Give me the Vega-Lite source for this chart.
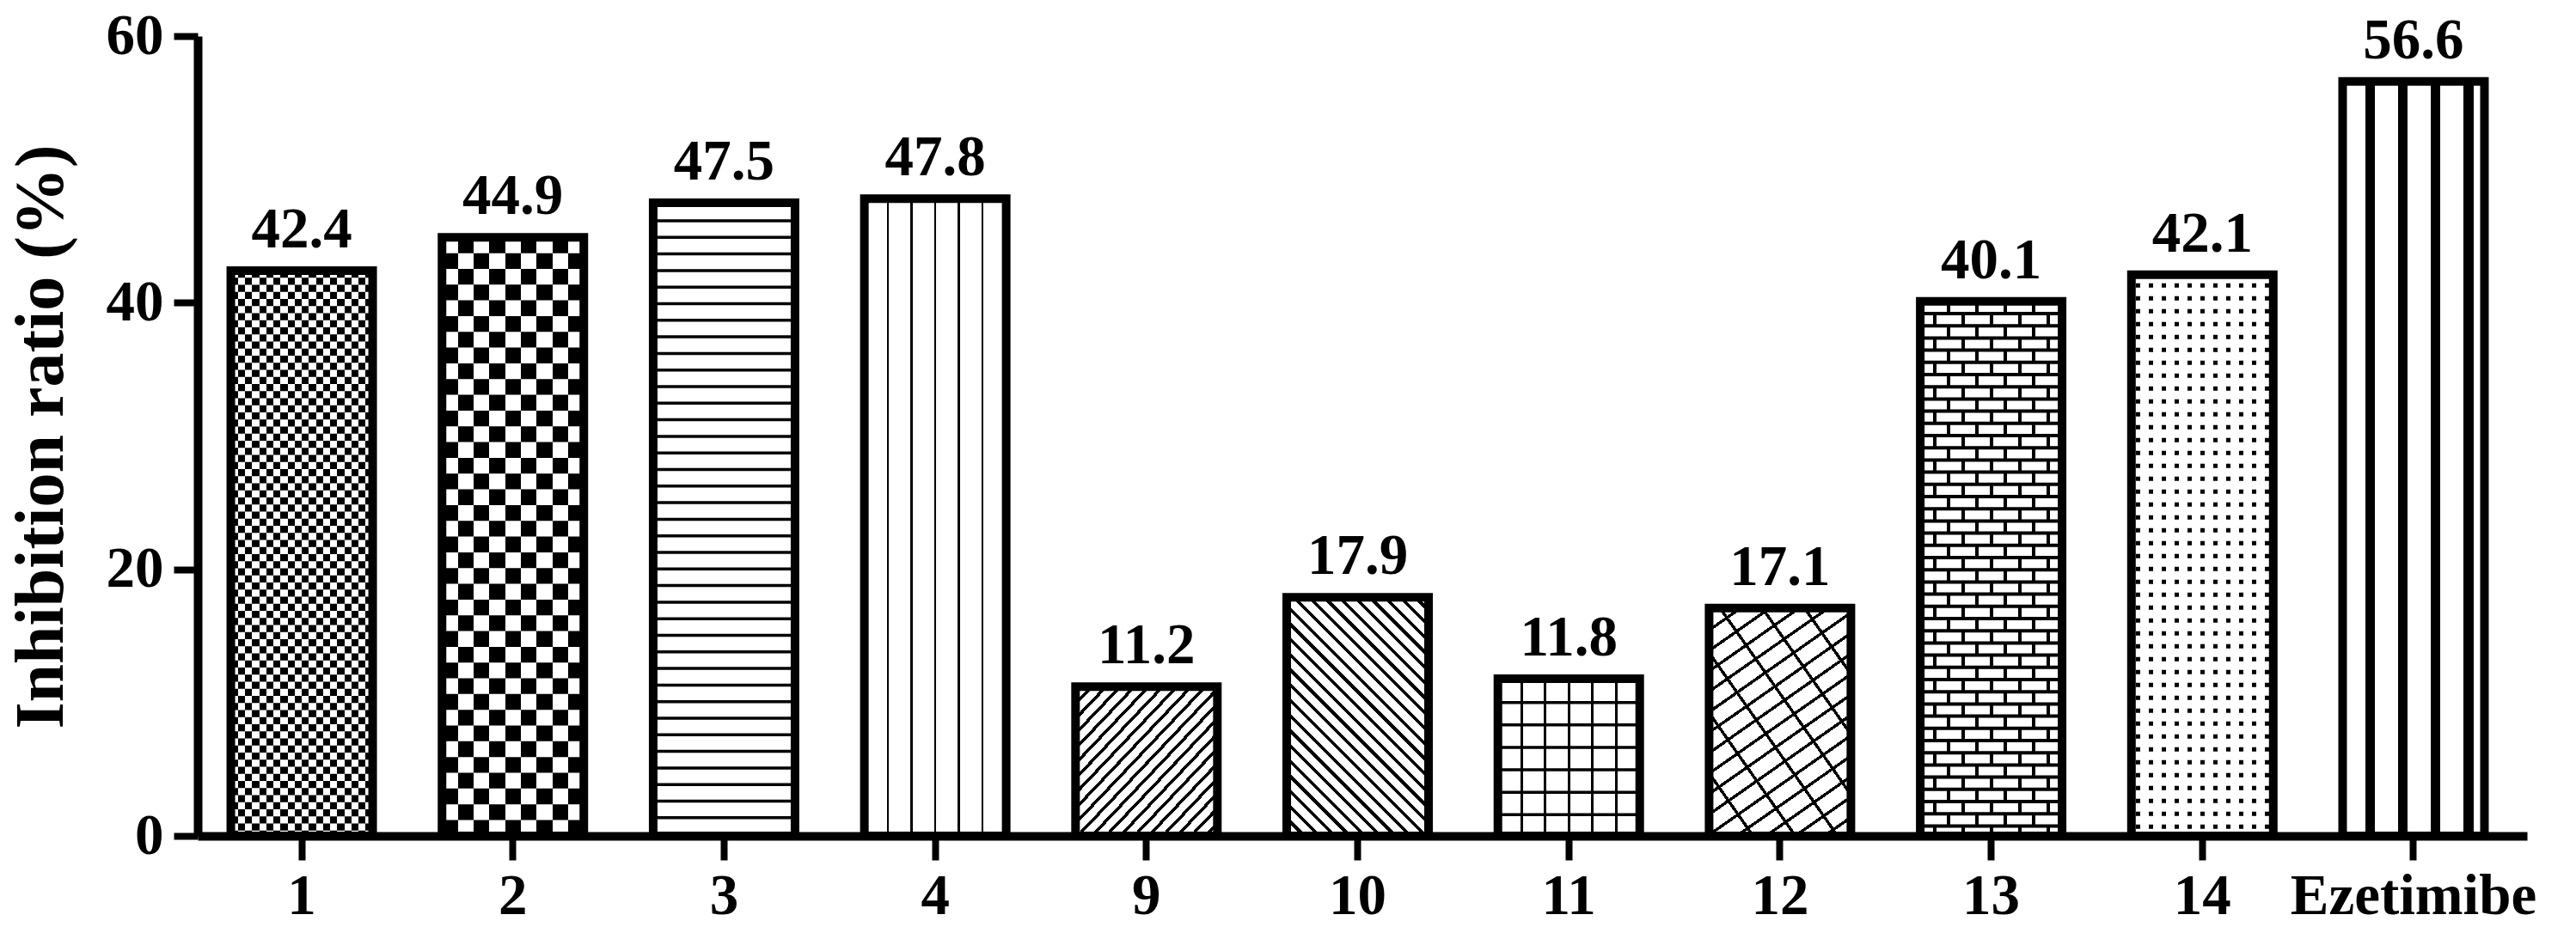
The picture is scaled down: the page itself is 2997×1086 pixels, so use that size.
{
  "$schema": "https://vega.github.io/schema/vega-lite/v6.json",
  "description": "Inhibition ratio of compounds 1-14 and Ezetimibe, patterned bars",
  "width": 2710,
  "height": 931,
  "autosize": {"type": "none"},
  "padding": {"left": 230, "top": 42, "right": 57, "bottom": 113},
  "background": "#ffffff",
  "config": {"view": {"stroke": null}, "font": "Liberation Serif"},
  "data": {
    "values": [
      {"compound": "1", "ratio": 42.4},
      {"compound": "2", "ratio": 44.9},
      {"compound": "3", "ratio": 47.5},
      {"compound": "4", "ratio": 47.8},
      {"compound": "9", "ratio": 11.2},
      {"compound": "10", "ratio": 17.9},
      {"compound": "11", "ratio": 11.8},
      {"compound": "12", "ratio": 17.1},
      {"compound": "13", "ratio": 40.1},
      {"compound": "14", "ratio": 42.1},
      {"compound": "Ezetimibe", "ratio": 56.6}
    ]
  },
  "encoding": {
    "x": {
      "field": "compound",
      "type": "nominal",
      "sort": null,
      "scale": {"paddingInner": 0.33, "paddingOuter": 0.18, "align": 0.438},
      "axis": {
        "title": null,
        "labelAngle": 0,
        "labelLimit": 0,
        "labelFont": "Liberation Serif",
        "labelFontSize": 67,
        "labelFontWeight": "bold",
        "labelColor": "#000",
        "labelBaseline": "top",
        "labelPadding": 9,
        "tickSize": 28,
        "tickWidth": 8,
        "tickColor": "#000",
        "domainColor": "#000",
        "domainWidth": 10
      }
    },
    "y": {
      "field": "ratio",
      "type": "quantitative",
      "scale": {"domain": [0, 60], "nice": false},
      "axis": {
        "values": [0, 20, 40, 60],
        "grid": false,
        "title": "Inhibition ratio (%)",
        "titleFont": "Liberation Serif",
        "titleFontSize": 80,
        "titleFontWeight": "bold",
        "titleColor": "#000",
        "titleAngle": -90,
        "titleAlign": "center",
        "titleBaseline": "alphabetic",
        "titleX": -158,
        "titleY": 466,
        "labelFont": "Liberation Serif",
        "labelFontSize": 67,
        "labelFontWeight": "bold",
        "labelColor": "#000",
        "labelFlush": false,
        "labelPadding": 12,
        "tickSize": 28,
        "tickWidth": 8,
        "tickColor": "#000",
        "domainColor": "#000",
        "domainWidth": 10
      }
    }
  },
  "layer": [
    {"mark": {"type": "bar", "width": 165, "fill": "#fff"}},
    {
      "transform": [{"filter": "datum.compound === '1'"}],
      "mark": {"type": "bar", "width": 165, "fill": {"gradient": "linear", "x1": 0, "y1": 0, "x2": 1, "y2": 0, "stops": [
        {"offset": 0, "color": "#000"}, {"offset": 0.05, "color": "#000"}, {"offset": 0.05, "color": "#fff"}, {"offset": 0.1, "color": "#fff"},
        {"offset": 0.1, "color": "#000"}, {"offset": 0.15, "color": "#000"}, {"offset": 0.15, "color": "#fff"}, {"offset": 0.2, "color": "#fff"},
        {"offset": 0.2, "color": "#000"}, {"offset": 0.25, "color": "#000"}, {"offset": 0.25, "color": "#fff"}, {"offset": 0.3, "color": "#fff"},
        {"offset": 0.3, "color": "#000"}, {"offset": 0.35, "color": "#000"}, {"offset": 0.35, "color": "#fff"}, {"offset": 0.4, "color": "#fff"},
        {"offset": 0.4, "color": "#000"}, {"offset": 0.45, "color": "#000"}, {"offset": 0.45, "color": "#fff"}, {"offset": 0.5, "color": "#fff"},
        {"offset": 0.5, "color": "#000"}, {"offset": 0.55, "color": "#000"}, {"offset": 0.55, "color": "#fff"}, {"offset": 0.6, "color": "#fff"},
        {"offset": 0.6, "color": "#000"}, {"offset": 0.65, "color": "#000"}, {"offset": 0.65, "color": "#fff"}, {"offset": 0.7, "color": "#fff"},
        {"offset": 0.7, "color": "#000"}, {"offset": 0.75, "color": "#000"}, {"offset": 0.75, "color": "#fff"}, {"offset": 0.8, "color": "#fff"},
        {"offset": 0.8, "color": "#000"}, {"offset": 0.85, "color": "#000"}, {"offset": 0.85, "color": "#fff"}, {"offset": 0.9, "color": "#fff"},
        {"offset": 0.9, "color": "#000"}, {"offset": 0.95, "color": "#000"}, {"offset": 0.95, "color": "#fff"}, {"offset": 1, "color": "#fff"}
      ]}}
    },
    {
      "transform": [{"filter": "datum.compound === '1'"}],
      "mark": {"type": "rule", "stroke": "#fff", "strokeWidth": 165, "strokeDash": [8.25, 8.25], "blend": "difference"},
      "encoding": {"y2": {"datum": 0}}
    },
    {
      "transform": [{"filter": "datum.compound === '2'"}],
      "mark": {"type": "bar", "width": 165, "fill": {"gradient": "linear", "x1": 0, "y1": 0, "x2": 1, "y2": 0, "stops": [
        {"offset": 0, "color": "#000"}, {"offset": 0.1111, "color": "#000"}, {"offset": 0.1111, "color": "#fff"}, {"offset": 0.2222, "color": "#fff"},
        {"offset": 0.2222, "color": "#000"}, {"offset": 0.3333, "color": "#000"}, {"offset": 0.3333, "color": "#fff"}, {"offset": 0.4444, "color": "#fff"},
        {"offset": 0.4444, "color": "#000"}, {"offset": 0.5556, "color": "#000"}, {"offset": 0.5556, "color": "#fff"}, {"offset": 0.6667, "color": "#fff"},
        {"offset": 0.6667, "color": "#000"}, {"offset": 0.7778, "color": "#000"}, {"offset": 0.7778, "color": "#fff"}, {"offset": 0.8889, "color": "#fff"},
        {"offset": 0.8889, "color": "#000"}, {"offset": 1, "color": "#000"}
      ]}}
    },
    {
      "transform": [{"filter": "datum.compound === '2'"}],
      "mark": {"type": "rule", "stroke": "#fff", "strokeWidth": 165, "strokeDash": [18.33, 18.33], "blend": "difference"},
      "encoding": {"y2": {"datum": 0}}
    },
    {
      "transform": [{"filter": "datum.compound === '3'"}],
      "mark": {"type": "rule", "stroke": "#000", "strokeWidth": 165, "strokeDash": [3.5, 15.8]},
      "encoding": {"y2": {"datum": 0}}
    },
    {
      "transform": [{"filter": "datum.compound === '4'"}],
      "mark": {"type": "bar", "width": 165, "fill": {"gradient": "linear", "x1": 0, "y1": 0, "x2": 1, "y2": 0, "stops": [
        {"offset": 0, "color": "#fff"}, {"offset": 0.1592, "color": "#fff"}, {"offset": 0.1592, "color": "#000"}, {"offset": 0.1742, "color": "#000"}, {"offset": 0.1742, "color": "#fff"},
        {"offset": 0.3258, "color": "#fff"}, {"offset": 0.3258, "color": "#000"}, {"offset": 0.3408, "color": "#000"}, {"offset": 0.3408, "color": "#fff"},
        {"offset": 0.4925, "color": "#fff"}, {"offset": 0.4925, "color": "#000"}, {"offset": 0.5075, "color": "#000"}, {"offset": 0.5075, "color": "#fff"},
        {"offset": 0.6592, "color": "#fff"}, {"offset": 0.6592, "color": "#000"}, {"offset": 0.6742, "color": "#000"}, {"offset": 0.6742, "color": "#fff"},
        {"offset": 0.8258, "color": "#fff"}, {"offset": 0.8258, "color": "#000"}, {"offset": 0.8408, "color": "#000"}, {"offset": 0.8408, "color": "#fff"},
        {"offset": 1, "color": "#fff"}
      ]}}
    },
    {
      "transform": [{"filter": "datum.compound === '9'"}],
      "mark": {"type": "bar", "width": 165, "fill": {"gradient": "linear", "x1": 0, "y1": 0, "x2": 1, "y2": 1, "stops": [
        {"offset": 0, "color": "#000"}, {"offset": 0.015, "color": "#000"}, {"offset": 0.015, "color": "#fff"}, {"offset": 0.05, "color": "#fff"},
        {"offset": 0.05, "color": "#000"}, {"offset": 0.065, "color": "#000"}, {"offset": 0.065, "color": "#fff"}, {"offset": 0.1, "color": "#fff"},
        {"offset": 0.1, "color": "#000"}, {"offset": 0.115, "color": "#000"}, {"offset": 0.115, "color": "#fff"}, {"offset": 0.15, "color": "#fff"},
        {"offset": 0.15, "color": "#000"}, {"offset": 0.165, "color": "#000"}, {"offset": 0.165, "color": "#fff"}, {"offset": 0.2, "color": "#fff"},
        {"offset": 0.2, "color": "#000"}, {"offset": 0.215, "color": "#000"}, {"offset": 0.215, "color": "#fff"}, {"offset": 0.25, "color": "#fff"},
        {"offset": 0.25, "color": "#000"}, {"offset": 0.265, "color": "#000"}, {"offset": 0.265, "color": "#fff"}, {"offset": 0.3, "color": "#fff"},
        {"offset": 0.3, "color": "#000"}, {"offset": 0.315, "color": "#000"}, {"offset": 0.315, "color": "#fff"}, {"offset": 0.35, "color": "#fff"},
        {"offset": 0.35, "color": "#000"}, {"offset": 0.365, "color": "#000"}, {"offset": 0.365, "color": "#fff"}, {"offset": 0.4, "color": "#fff"},
        {"offset": 0.4, "color": "#000"}, {"offset": 0.415, "color": "#000"}, {"offset": 0.415, "color": "#fff"}, {"offset": 0.45, "color": "#fff"},
        {"offset": 0.45, "color": "#000"}, {"offset": 0.465, "color": "#000"}, {"offset": 0.465, "color": "#fff"}, {"offset": 0.5, "color": "#fff"},
        {"offset": 0.5, "color": "#000"}, {"offset": 0.515, "color": "#000"}, {"offset": 0.515, "color": "#fff"}, {"offset": 0.55, "color": "#fff"},
        {"offset": 0.55, "color": "#000"}, {"offset": 0.565, "color": "#000"}, {"offset": 0.565, "color": "#fff"}, {"offset": 0.6, "color": "#fff"},
        {"offset": 0.6, "color": "#000"}, {"offset": 0.615, "color": "#000"}, {"offset": 0.615, "color": "#fff"}, {"offset": 0.65, "color": "#fff"},
        {"offset": 0.65, "color": "#000"}, {"offset": 0.665, "color": "#000"}, {"offset": 0.665, "color": "#fff"}, {"offset": 0.7, "color": "#fff"},
        {"offset": 0.7, "color": "#000"}, {"offset": 0.715, "color": "#000"}, {"offset": 0.715, "color": "#fff"}, {"offset": 0.75, "color": "#fff"},
        {"offset": 0.75, "color": "#000"}, {"offset": 0.765, "color": "#000"}, {"offset": 0.765, "color": "#fff"}, {"offset": 0.8, "color": "#fff"},
        {"offset": 0.8, "color": "#000"}, {"offset": 0.815, "color": "#000"}, {"offset": 0.815, "color": "#fff"}, {"offset": 0.85, "color": "#fff"},
        {"offset": 0.85, "color": "#000"}, {"offset": 0.865, "color": "#000"}, {"offset": 0.865, "color": "#fff"}, {"offset": 0.9, "color": "#fff"},
        {"offset": 0.9, "color": "#000"}, {"offset": 0.915, "color": "#000"}, {"offset": 0.915, "color": "#fff"}, {"offset": 0.95, "color": "#fff"},
        {"offset": 0.95, "color": "#000"}, {"offset": 0.965, "color": "#000"}, {"offset": 0.965, "color": "#fff"}, {"offset": 1, "color": "#fff"}
      ]}}
    },
    {
      "transform": [{"filter": "datum.compound === '10'"}],
      "mark": {"type": "bar", "width": 165, "fill": {"gradient": "linear", "x1": 0, "y1": 1, "x2": 0.7, "y2": -0.178, "stops": [
        {"offset": 0, "color": "#000"}, {"offset": 0.012, "color": "#000"}, {"offset": 0.012, "color": "#fff"}, {"offset": 0.04, "color": "#fff"},
        {"offset": 0.04, "color": "#000"}, {"offset": 0.052, "color": "#000"}, {"offset": 0.052, "color": "#fff"}, {"offset": 0.08, "color": "#fff"},
        {"offset": 0.08, "color": "#000"}, {"offset": 0.092, "color": "#000"}, {"offset": 0.092, "color": "#fff"}, {"offset": 0.12, "color": "#fff"},
        {"offset": 0.12, "color": "#000"}, {"offset": 0.132, "color": "#000"}, {"offset": 0.132, "color": "#fff"}, {"offset": 0.16, "color": "#fff"},
        {"offset": 0.16, "color": "#000"}, {"offset": 0.172, "color": "#000"}, {"offset": 0.172, "color": "#fff"}, {"offset": 0.2, "color": "#fff"},
        {"offset": 0.2, "color": "#000"}, {"offset": 0.212, "color": "#000"}, {"offset": 0.212, "color": "#fff"}, {"offset": 0.24, "color": "#fff"},
        {"offset": 0.24, "color": "#000"}, {"offset": 0.252, "color": "#000"}, {"offset": 0.252, "color": "#fff"}, {"offset": 0.28, "color": "#fff"},
        {"offset": 0.28, "color": "#000"}, {"offset": 0.292, "color": "#000"}, {"offset": 0.292, "color": "#fff"}, {"offset": 0.32, "color": "#fff"},
        {"offset": 0.32, "color": "#000"}, {"offset": 0.332, "color": "#000"}, {"offset": 0.332, "color": "#fff"}, {"offset": 0.36, "color": "#fff"},
        {"offset": 0.36, "color": "#000"}, {"offset": 0.372, "color": "#000"}, {"offset": 0.372, "color": "#fff"}, {"offset": 0.4, "color": "#fff"},
        {"offset": 0.4, "color": "#000"}, {"offset": 0.412, "color": "#000"}, {"offset": 0.412, "color": "#fff"}, {"offset": 0.44, "color": "#fff"},
        {"offset": 0.44, "color": "#000"}, {"offset": 0.452, "color": "#000"}, {"offset": 0.452, "color": "#fff"}, {"offset": 0.48, "color": "#fff"},
        {"offset": 0.48, "color": "#000"}, {"offset": 0.492, "color": "#000"}, {"offset": 0.492, "color": "#fff"}, {"offset": 0.52, "color": "#fff"},
        {"offset": 0.52, "color": "#000"}, {"offset": 0.532, "color": "#000"}, {"offset": 0.532, "color": "#fff"}, {"offset": 0.56, "color": "#fff"},
        {"offset": 0.56, "color": "#000"}, {"offset": 0.572, "color": "#000"}, {"offset": 0.572, "color": "#fff"}, {"offset": 0.6, "color": "#fff"},
        {"offset": 0.6, "color": "#000"}, {"offset": 0.612, "color": "#000"}, {"offset": 0.612, "color": "#fff"}, {"offset": 0.64, "color": "#fff"},
        {"offset": 0.64, "color": "#000"}, {"offset": 0.652, "color": "#000"}, {"offset": 0.652, "color": "#fff"}, {"offset": 0.68, "color": "#fff"},
        {"offset": 0.68, "color": "#000"}, {"offset": 0.692, "color": "#000"}, {"offset": 0.692, "color": "#fff"}, {"offset": 0.72, "color": "#fff"},
        {"offset": 0.72, "color": "#000"}, {"offset": 0.732, "color": "#000"}, {"offset": 0.732, "color": "#fff"}, {"offset": 0.76, "color": "#fff"},
        {"offset": 0.76, "color": "#000"}, {"offset": 0.772, "color": "#000"}, {"offset": 0.772, "color": "#fff"}, {"offset": 0.8, "color": "#fff"},
        {"offset": 0.8, "color": "#000"}, {"offset": 0.812, "color": "#000"}, {"offset": 0.812, "color": "#fff"}, {"offset": 0.84, "color": "#fff"},
        {"offset": 0.84, "color": "#000"}, {"offset": 0.852, "color": "#000"}, {"offset": 0.852, "color": "#fff"}, {"offset": 0.88, "color": "#fff"},
        {"offset": 0.88, "color": "#000"}, {"offset": 0.892, "color": "#000"}, {"offset": 0.892, "color": "#fff"}, {"offset": 0.92, "color": "#fff"},
        {"offset": 0.92, "color": "#000"}, {"offset": 0.932, "color": "#000"}, {"offset": 0.932, "color": "#fff"}, {"offset": 0.96, "color": "#fff"},
        {"offset": 0.96, "color": "#000"}, {"offset": 0.972, "color": "#000"}, {"offset": 0.972, "color": "#fff"}, {"offset": 1, "color": "#fff"}
      ]}}
    },
    {
      "transform": [{"filter": "datum.compound === '11'"}],
      "mark": {"type": "bar", "width": 165, "fill": {"gradient": "linear", "x1": 0, "y1": 0, "x2": 1, "y2": 0, "stops": [
        {"offset": 0, "color": "#fff"}, {"offset": 0.1567, "color": "#fff"}, {"offset": 0.1567, "color": "#000"}, {"offset": 0.1767, "color": "#000"}, {"offset": 0.1767, "color": "#fff"},
        {"offset": 0.3233, "color": "#fff"}, {"offset": 0.3233, "color": "#000"}, {"offset": 0.3433, "color": "#000"}, {"offset": 0.3433, "color": "#fff"},
        {"offset": 0.49, "color": "#fff"}, {"offset": 0.49, "color": "#000"}, {"offset": 0.51, "color": "#000"}, {"offset": 0.51, "color": "#fff"},
        {"offset": 0.6567, "color": "#fff"}, {"offset": 0.6567, "color": "#000"}, {"offset": 0.6767, "color": "#000"}, {"offset": 0.6767, "color": "#fff"},
        {"offset": 0.8233, "color": "#fff"}, {"offset": 0.8233, "color": "#000"}, {"offset": 0.8433, "color": "#000"}, {"offset": 0.8433, "color": "#fff"},
        {"offset": 1, "color": "#fff"}
      ]}}
    },
    {
      "transform": [{"filter": "datum.compound === '11'"}],
      "mark": {"type": "rule", "stroke": "#000", "strokeWidth": 165, "strokeDash": [3.5, 22.6]},
      "encoding": {"y2": {"datum": 0}}
    },
    {
      "transform": [{"filter": "datum.compound === '12'"}],
      "mark": {"type": "bar", "width": 165, "fill": {"gradient": "linear", "x1": 0, "y1": 0, "x2": 0.526, "y2": 1.207, "stops": [
        {"offset": 0, "color": "#000"}, {"offset": 0.011, "color": "#000"}, {"offset": 0.011, "color": "#fff"}, {"offset": 0.0625, "color": "#fff"},
        {"offset": 0.0625, "color": "#000"}, {"offset": 0.0735, "color": "#000"}, {"offset": 0.0735, "color": "#fff"}, {"offset": 0.125, "color": "#fff"},
        {"offset": 0.125, "color": "#000"}, {"offset": 0.136, "color": "#000"}, {"offset": 0.136, "color": "#fff"}, {"offset": 0.1875, "color": "#fff"},
        {"offset": 0.1875, "color": "#000"}, {"offset": 0.1985, "color": "#000"}, {"offset": 0.1985, "color": "#fff"}, {"offset": 0.25, "color": "#fff"},
        {"offset": 0.25, "color": "#000"}, {"offset": 0.261, "color": "#000"}, {"offset": 0.261, "color": "#fff"}, {"offset": 0.3125, "color": "#fff"},
        {"offset": 0.3125, "color": "#000"}, {"offset": 0.3235, "color": "#000"}, {"offset": 0.3235, "color": "#fff"}, {"offset": 0.375, "color": "#fff"},
        {"offset": 0.375, "color": "#000"}, {"offset": 0.386, "color": "#000"}, {"offset": 0.386, "color": "#fff"}, {"offset": 0.4375, "color": "#fff"},
        {"offset": 0.4375, "color": "#000"}, {"offset": 0.4485, "color": "#000"}, {"offset": 0.4485, "color": "#fff"}, {"offset": 0.5, "color": "#fff"},
        {"offset": 0.5, "color": "#000"}, {"offset": 0.511, "color": "#000"}, {"offset": 0.511, "color": "#fff"}, {"offset": 0.5625, "color": "#fff"},
        {"offset": 0.5625, "color": "#000"}, {"offset": 0.5735, "color": "#000"}, {"offset": 0.5735, "color": "#fff"}, {"offset": 0.625, "color": "#fff"},
        {"offset": 0.625, "color": "#000"}, {"offset": 0.636, "color": "#000"}, {"offset": 0.636, "color": "#fff"}, {"offset": 0.6875, "color": "#fff"},
        {"offset": 0.6875, "color": "#000"}, {"offset": 0.6985, "color": "#000"}, {"offset": 0.6985, "color": "#fff"}, {"offset": 0.75, "color": "#fff"},
        {"offset": 0.75, "color": "#000"}, {"offset": 0.761, "color": "#000"}, {"offset": 0.761, "color": "#fff"}, {"offset": 0.8125, "color": "#fff"},
        {"offset": 0.8125, "color": "#000"}, {"offset": 0.8235, "color": "#000"}, {"offset": 0.8235, "color": "#fff"}, {"offset": 0.875, "color": "#fff"},
        {"offset": 0.875, "color": "#000"}, {"offset": 0.886, "color": "#000"}, {"offset": 0.886, "color": "#fff"}, {"offset": 0.9375, "color": "#fff"},
        {"offset": 0.9375, "color": "#000"}, {"offset": 0.9485, "color": "#000"}, {"offset": 0.9485, "color": "#fff"}, {"offset": 1, "color": "#fff"}
      ]}}
    },
    {
      "transform": [{"filter": "datum.compound === '12'"}],
      "mark": {"type": "bar", "width": 165, "fill": {"gradient": "linear", "x1": 0, "y1": 1, "x2": 0.937, "y2": -0.056, "stops": [
        {"offset": 0, "color": "#000"}, {"offset": 0.012, "color": "#000"}, {"offset": 0.012, "color": "rgba(0,0,0,0)"}, {"offset": 0.14, "color": "rgba(0,0,0,0)"},
        {"offset": 0.14, "color": "#000"}, {"offset": 0.152, "color": "#000"}, {"offset": 0.152, "color": "rgba(0,0,0,0)"}, {"offset": 0.28, "color": "rgba(0,0,0,0)"},
        {"offset": 0.28, "color": "#000"}, {"offset": 0.292, "color": "#000"}, {"offset": 0.292, "color": "rgba(0,0,0,0)"}, {"offset": 0.42, "color": "rgba(0,0,0,0)"},
        {"offset": 0.42, "color": "#000"}, {"offset": 0.432, "color": "#000"}, {"offset": 0.432, "color": "rgba(0,0,0,0)"}, {"offset": 0.56, "color": "rgba(0,0,0,0)"},
        {"offset": 0.56, "color": "#000"}, {"offset": 0.572, "color": "#000"}, {"offset": 0.572, "color": "rgba(0,0,0,0)"}, {"offset": 0.7, "color": "rgba(0,0,0,0)"},
        {"offset": 0.7, "color": "#000"}, {"offset": 0.712, "color": "#000"}, {"offset": 0.712, "color": "rgba(0,0,0,0)"}, {"offset": 0.84, "color": "rgba(0,0,0,0)"},
        {"offset": 0.84, "color": "#000"}, {"offset": 0.852, "color": "#000"}, {"offset": 0.852, "color": "rgba(0,0,0,0)"}, {"offset": 0.98, "color": "rgba(0,0,0,0)"},
        {"offset": 0.98, "color": "#000"}, {"offset": 0.992, "color": "#000"}, {"offset": 0.992, "color": "rgba(0,0,0,0)"}, {"offset": 1, "color": "rgba(0,0,0,0)"}
      ]}}
    },
    {
      "transform": [{"filter": "datum.compound === '13'"}],
      "mark": {"type": "bar", "width": 165, "fill": {"gradient": "linear", "x1": 0, "y1": 0, "x2": 1, "y2": 0, "stops": [
        {"offset": 0, "color": "#fff"}, {"offset": 0.088, "color": "#fff"}, {"offset": 0.088, "color": "#000"}, {"offset": 0.112, "color": "#000"}, {"offset": 0.112, "color": "#fff"},
        {"offset": 0.288, "color": "#fff"}, {"offset": 0.288, "color": "#000"}, {"offset": 0.312, "color": "#000"}, {"offset": 0.312, "color": "#fff"},
        {"offset": 0.488, "color": "#fff"}, {"offset": 0.488, "color": "#000"}, {"offset": 0.512, "color": "#000"}, {"offset": 0.512, "color": "#fff"},
        {"offset": 0.688, "color": "#fff"}, {"offset": 0.688, "color": "#000"}, {"offset": 0.712, "color": "#000"}, {"offset": 0.712, "color": "#fff"},
        {"offset": 0.888, "color": "#fff"}, {"offset": 0.888, "color": "#000"}, {"offset": 0.912, "color": "#000"}, {"offset": 0.912, "color": "#fff"},
        {"offset": 1, "color": "#fff"}
      ]}}
    },
    {
      "transform": [{"filter": "datum.compound === '13'"}],
      "mark": {"type": "rule", "stroke": "#fff", "strokeWidth": 165, "strokeDash": [14.2, 14.2], "blend": "difference"},
      "encoding": {"y2": {"datum": 0}}
    },
    {
      "transform": [{"filter": "datum.compound === '13'"}],
      "mark": {"type": "bar", "width": 165, "blend": "lighten", "fill": {"gradient": "linear", "x1": 0, "y1": 0, "x2": 1, "y2": 0, "stops": [
        {"offset": 0, "color": "#fff"}, {"offset": 0.088, "color": "#fff"}, {"offset": 0.088, "color": "#000"}, {"offset": 0.112, "color": "#000"}, {"offset": 0.112, "color": "#fff"},
        {"offset": 0.188, "color": "#fff"}, {"offset": 0.188, "color": "#000"}, {"offset": 0.212, "color": "#000"}, {"offset": 0.212, "color": "#fff"},
        {"offset": 0.288, "color": "#fff"}, {"offset": 0.288, "color": "#000"}, {"offset": 0.312, "color": "#000"}, {"offset": 0.312, "color": "#fff"},
        {"offset": 0.388, "color": "#fff"}, {"offset": 0.388, "color": "#000"}, {"offset": 0.412, "color": "#000"}, {"offset": 0.412, "color": "#fff"},
        {"offset": 0.488, "color": "#fff"}, {"offset": 0.488, "color": "#000"}, {"offset": 0.512, "color": "#000"}, {"offset": 0.512, "color": "#fff"},
        {"offset": 0.588, "color": "#fff"}, {"offset": 0.588, "color": "#000"}, {"offset": 0.612, "color": "#000"}, {"offset": 0.612, "color": "#fff"},
        {"offset": 0.688, "color": "#fff"}, {"offset": 0.688, "color": "#000"}, {"offset": 0.712, "color": "#000"}, {"offset": 0.712, "color": "#fff"},
        {"offset": 0.788, "color": "#fff"}, {"offset": 0.788, "color": "#000"}, {"offset": 0.812, "color": "#000"}, {"offset": 0.812, "color": "#fff"},
        {"offset": 0.888, "color": "#fff"}, {"offset": 0.888, "color": "#000"}, {"offset": 0.912, "color": "#000"}, {"offset": 0.912, "color": "#fff"},
        {"offset": 1, "color": "#fff"}
      ]}}
    },
    {
      "transform": [{"filter": "datum.compound === '13'"}],
      "mark": {"type": "rule", "stroke": "#000", "strokeWidth": 165, "strokeDash": [4, 10.2], "strokeDashOffset": 2},
      "encoding": {"y2": {"datum": 0}}
    },
    {
      "transform": [{"filter": "datum.compound === '14'"}],
      "mark": {"type": "bar", "width": 165, "fill": {"gradient": "linear", "x1": 0, "y1": 0, "x2": 1, "y2": 0, "stops": [
        {"offset": 0, "color": "#fff"}, {"offset": 0.0305, "color": "#fff"}, {"offset": 0.0305, "color": "#000"}, {"offset": 0.0605, "color": "#000"}, {"offset": 0.0605, "color": "#fff"},
        {"offset": 0.1214, "color": "#fff"}, {"offset": 0.1214, "color": "#000"}, {"offset": 0.1514, "color": "#000"}, {"offset": 0.1514, "color": "#fff"},
        {"offset": 0.2123, "color": "#fff"}, {"offset": 0.2123, "color": "#000"}, {"offset": 0.2423, "color": "#000"}, {"offset": 0.2423, "color": "#fff"},
        {"offset": 0.3032, "color": "#fff"}, {"offset": 0.3032, "color": "#000"}, {"offset": 0.3332, "color": "#000"}, {"offset": 0.3332, "color": "#fff"},
        {"offset": 0.3941, "color": "#fff"}, {"offset": 0.3941, "color": "#000"}, {"offset": 0.4241, "color": "#000"}, {"offset": 0.4241, "color": "#fff"},
        {"offset": 0.485, "color": "#fff"}, {"offset": 0.485, "color": "#000"}, {"offset": 0.515, "color": "#000"}, {"offset": 0.515, "color": "#fff"},
        {"offset": 0.5759, "color": "#fff"}, {"offset": 0.5759, "color": "#000"}, {"offset": 0.6059, "color": "#000"}, {"offset": 0.6059, "color": "#fff"},
        {"offset": 0.6668, "color": "#fff"}, {"offset": 0.6668, "color": "#000"}, {"offset": 0.6968, "color": "#000"}, {"offset": 0.6968, "color": "#fff"},
        {"offset": 0.7577, "color": "#fff"}, {"offset": 0.7577, "color": "#000"}, {"offset": 0.7877, "color": "#000"}, {"offset": 0.7877, "color": "#fff"},
        {"offset": 0.8486, "color": "#fff"}, {"offset": 0.8486, "color": "#000"}, {"offset": 0.8786, "color": "#000"}, {"offset": 0.8786, "color": "#fff"},
        {"offset": 0.9395, "color": "#fff"}, {"offset": 0.9395, "color": "#000"}, {"offset": 0.9695, "color": "#000"}, {"offset": 0.9695, "color": "#fff"},
        {"offset": 1, "color": "#fff"}
      ]}}
    },
    {
      "transform": [{"filter": "datum.compound === '14'"}],
      "mark": {"type": "rule", "stroke": "#fff", "strokeWidth": 165, "strokeDash": [10, 5]},
      "encoding": {"y2": {"datum": 0}}
    },
    {
      "transform": [{"filter": "datum.compound === 'Ezetimibe'"}],
      "mark": {"type": "bar", "width": 165, "fill": {"gradient": "linear", "x1": 0, "y1": 0, "x2": 1, "y2": 0, "stops": [
        {"offset": 0, "color": "#fff"}, {"offset": 0.161, "color": "#fff"}, {"offset": 0.161, "color": "#000"}, {"offset": 0.229, "color": "#000"}, {"offset": 0.229, "color": "#fff"},
        {"offset": 0.392, "color": "#fff"}, {"offset": 0.392, "color": "#000"}, {"offset": 0.46, "color": "#000"}, {"offset": 0.46, "color": "#fff"},
        {"offset": 0.623, "color": "#fff"}, {"offset": 0.623, "color": "#000"}, {"offset": 0.691, "color": "#000"}, {"offset": 0.691, "color": "#fff"},
        {"offset": 0.854, "color": "#fff"}, {"offset": 0.854, "color": "#000"}, {"offset": 0.922, "color": "#000"}, {"offset": 0.922, "color": "#fff"},
        {"offset": 1, "color": "#fff"}
      ]}}
    },
    {"mark": {"type": "bar", "width": 165, "fill": "transparent", "stroke": "#000", "strokeWidth": 10}},
    {
      "mark": {"type": "text", "dy": -27, "baseline": "alphabetic", "align": "center", "font": "Liberation Serif", "fontSize": 67, "fontWeight": "bold", "fill": "#000"},
      "encoding": {"text": {"field": "ratio", "type": "quantitative", "format": ".1f"}}
    }
  ]
}
